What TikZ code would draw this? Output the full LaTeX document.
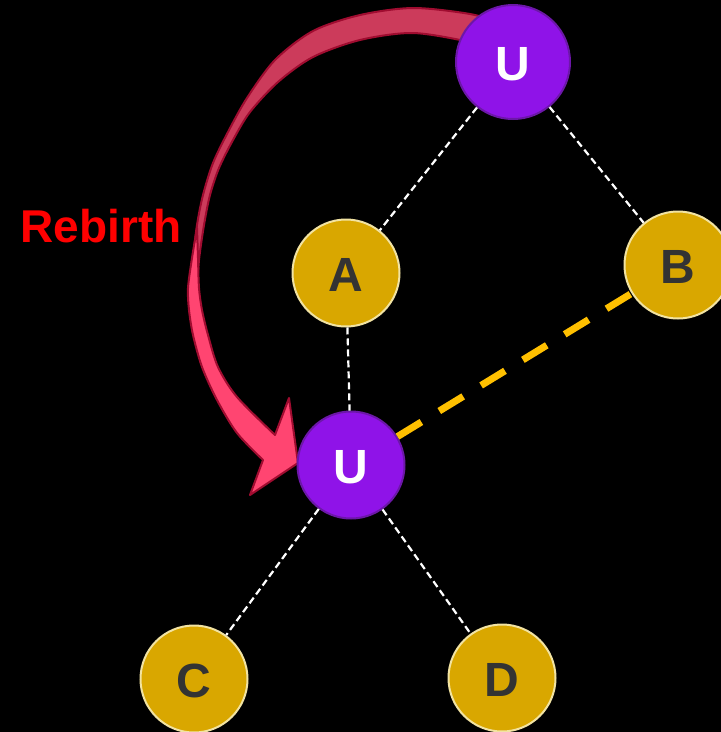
\documentclass[tikz,border=0pt]{standalone}
\usepackage{fontspec}
\setmainfont{Liberation Sans}
\definecolor{upurple}{HTML}{8F13E8}
\definecolor{uborder}{HTML}{6C17A8}
\definecolor{gfill}{HTML}{D9A700}
\definecolor{gborder}{HTML}{F2E3A2}
\definecolor{letter}{HTML}{333333}
\definecolor{odash}{HTML}{FFC000}
\definecolor{backband}{HTML}{CC3B5B}
\definecolor{frontband}{HTML}{FF4571}
\definecolor{bandedge}{HTML}{A00C30}
\definecolor{rebirth}{HTML}{FF0000}
\begin{document}
\begin{tikzpicture}[x=1pt,y=-1pt,
  unode/.style={circle,fill=upurple,draw=uborder,line width=2pt,minimum size=114pt,inner sep=0pt,
    text=white,text height=37.5pt,text depth=0pt,font=\bfseries\fontsize{48}{48}\selectfont},
  usmall/.style={unode,minimum size=107pt},
  gnode/.style={circle,fill=gfill,draw=gborder,line width=2pt,minimum size=107pt,inner sep=0pt,
    text=letter,text height=37pt,text depth=0pt,font=\bfseries\fontsize{48}{48}\selectfont},
  thinedge/.style={draw=white,line width=2.2pt,dash pattern=on 7pt off 4pt},
  rebirthedge/.style={draw=odash,line width=7pt,dash pattern=on 28pt off 21pt},
  band/.style={draw=bandedge,line width=2pt,line join=round}]
\fill[black] (0,0) rectangle (721,732);
\useasboundingbox (0,0) rectangle (721,732);
% rebirth arrow: back face
\path[band,fill=backband]
  plot[smooth] coordinates {(505,24) (470,14) (413,8) (360,15) (313,31) (275,60) (247,98) (228,132) (213,163) (203,195) (197,225) (193,260) (192,292)}
  -- plot[smooth] coordinates {(197,292) (199,260) (204,225) (210,195) (219,168) (233,140) (250,112) (278,82) (313,57) (360,40) (413,33) (470,42) (505,52)}
  -- cycle;
% rebirth arrow: front face with head
\path[band,fill=frontband]
  plot[smooth] coordinates {(197,228) (192,258) (188,288) (189,310) (193,335) (202,367) (217,400) (237,433) (263,460)}
  -- (250,495) -- (298,463) -- (289,398) -- (275,435)
  -- plot[smooth] coordinates {(275,435) (237,397) (218,367) (208,335) (202,310) (199,288) (198,258) (197,228)}
  -- cycle;
% nodes
\node[unode] (u1) at (513,62) {U};
\node[gnode] (a) at (346,273) {A};
\node[gnode] (b) at (678,265) {B};
\node[usmall] (u2) at (351,465) {U};
\node[gnode] (c) at (194,679) {C};
\node[gnode] (d) at (502,678) {D};
\node[text=rebirth,font=\bfseries\fontsize{46}{46}\selectfont] (lbl) at (101,226) {Rebirth};
% edges
\path[thinedge] (u1) -- (a);
\path[thinedge] (u1) -- (b);
\path[thinedge] (a) -- (u2);
\path[thinedge] (u2) -- (c);
\path[thinedge] (u2) -- (d);
\path[rebirthedge] (u2) -- (b);
\end{tikzpicture}
\end{document}
